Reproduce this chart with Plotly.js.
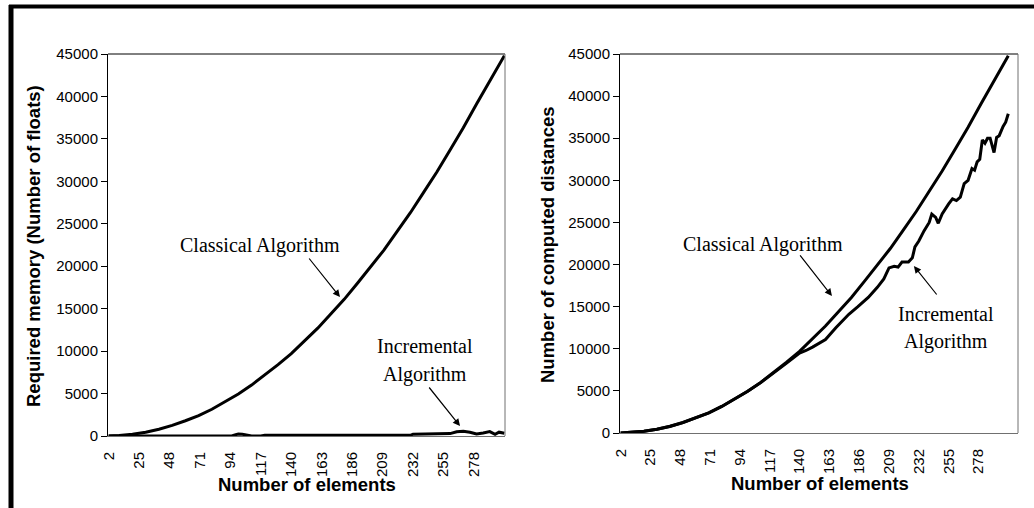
<!DOCTYPE html>
<html>
<head>
<meta charset="utf-8">
<script src="https://cdn.plot.ly/plotly-3.0.1.min.js"></script>
<style>html,body{margin:0;padding:0;background:#fff;}#chart{width:1034px;height:508px;}</style>
</head>
<body>
<div id="chart"></div>
<script>
// ---- data ----
const xTickVals = [2, 25, 48, 71, 94, 117, 140, 163, 186, 209, 232, 255, 278];
const xTickText = ["2", "25", "48", "71", "94", "117", "140", "163", "186", "209", "232", "255", "278"];

// Left chart: required memory
const memClassicalX = [2, 10, 20, 30, 40, 50, 60, 70, 80, 90, 100, 110, 120, 130, 140, 150, 160, 170, 180, 190, 200, 210, 220, 230, 240, 250, 260, 270, 280, 290, 301];
const memClassicalY = [0, 50, 200, 450, 800, 1250, 1800, 2400, 3150, 4000, 4950, 6000, 7150, 8400, 9700, 11200, 12700, 14400, 16100, 18000, 19900, 21900, 24100, 26300, 28700, 31100, 33700, 36300, 39100, 41900, 44800];
const memIncrementalX = [2, 20, 50, 95, 98, 100, 103, 106, 110, 117, 120, 150, 180, 210, 230, 232, 240, 250, 255, 260, 265, 270, 275, 280, 285, 290, 294, 297, 301];
const memIncrementalY = [0, 0, 0, 0, 150, 220, 200, 120, 0, 0, 80, 80, 80, 80, 80, 220, 240, 260, 300, 280, 500, 550, 450, 250, 350, 520, 200, 450, 320];

// Right chart: computed distances
const distClassicalX = memClassicalX;
const distClassicalY = [0, 50, 200, 450, 800, 1250, 1800, 2400, 3150, 4000, 4950, 6000, 7150, 8400, 9700, 11200, 12700, 14400, 16100, 18000, 19900, 21900, 24100, 26300, 28700, 31100, 33700, 36300, 39100, 41900, 44800];
const distIncrementalX = [2, 10, 20, 30, 40, 50, 60, 70, 80, 90, 100, 110, 120, 130, 140, 145, 150, 160, 168, 178, 185, 193, 200, 205, 209, 213, 216, 219, 224, 227, 229, 232, 236, 240, 242, 245, 247, 250, 255, 258, 261, 264, 267, 270, 273, 275, 277, 279, 281, 283, 285, 287, 290, 292, 294, 297, 299, 301];
const distIncrementalY = [0, 50, 200, 440, 780, 1230, 1770, 2400, 3150, 4000, 4950, 5980, 7100, 8300, 9500, 9800, 10200, 11100, 12500, 14100, 15000, 16100, 17300, 18300, 19600, 19800, 19700, 20300, 20300, 20800, 22100, 22800, 24000, 25000, 26000, 25600, 24900, 26000, 27200, 27800, 27600, 28000, 29600, 30000, 31400, 31200, 32200, 32500, 34800, 34400, 35000, 35000, 33300, 35100, 35300, 36400, 36900, 37900];

const yTickVals = [0, 5000, 10000, 15000, 20000, 25000, 30000, 35000, 40000, 45000];

// ---- chart ----
const W = 1034, H = 508;
const lineStyle = {color: '#000', width: 3};
const traces = [
  {x: memClassicalX, y: memClassicalY, xaxis: 'x', yaxis: 'y', mode: 'lines', line: lineStyle, name: 'Classical Algorithm'},
  {x: memIncrementalX, y: memIncrementalY, xaxis: 'x', yaxis: 'y', mode: 'lines', line: lineStyle, name: 'Incremental Algorithm'},
  {x: distClassicalX, y: distClassicalY, xaxis: 'x2', yaxis: 'y2', mode: 'lines', line: lineStyle, name: 'Classical Algorithm'},
  {x: distIncrementalX, y: distIncrementalY, xaxis: 'x2', yaxis: 'y2', mode: 'lines', line: lineStyle, name: 'Incremental Algorithm'}
];

const tickFont = {family: 'Liberation Sans, Arial, sans-serif', size: 15, color: '#000'};
const titleFont = {family: 'Liberation Sans, Arial, sans-serif', size: 18.5, color: '#000', weight: 'bold'};
const noteFont = {family: 'Liberation Serif, Times New Roman, serif', size: 20, color: '#000'};

function xAxis(domain, range, anchor) {
  return {domain: domain, range: range, anchor: anchor, tickmode: 'array', tickvals: xTickVals, ticktext: xTickText,
    tickangle: -90, ticks: 'outside', ticklen: 9, tickcolor: 'rgba(0,0,0,0)', tickfont: tickFont,
    showline: true, linecolor: '#707070', linewidth: 1, showgrid: false, zeroline: false, fixedrange: true};
}
function yAxis(domain, anchor) {
  return {domain: domain, range: [0, 45000], anchor: anchor, tickmode: 'array', tickvals: yTickVals, tickformat: 'd',
    ticks: 'outside', ticklen: 6, tickcolor: '#000', tickfont: tickFont,
    showline: true, linecolor: '#000', linewidth: 1, showgrid: false, zeroline: false, fixedrange: true};
}

function px(v) { return v / W; }
function py(v) { return 1 - v / H; }

const annotations = [
  // axis titles
  {xref: 'paper', yref: 'paper', x: px(33), y: py(246), text: 'Required memory (Number of floats)', textangle: -90, showarrow: false, font: titleFont, xanchor: 'center', yanchor: 'middle'},
  {xref: 'paper', yref: 'paper', x: px(307), y: py(484), text: 'Number of elements', showarrow: false, font: titleFont, xanchor: 'center', yanchor: 'middle'},
  {xref: 'paper', yref: 'paper', x: px(547), y: py(245), text: 'Number of computed distances', textangle: -90, showarrow: false, font: titleFont, xanchor: 'center', yanchor: 'middle'},
  {xref: 'paper', yref: 'paper', x: px(820), y: py(483), text: 'Number of elements', showarrow: false, font: titleFont, xanchor: 'center', yanchor: 'middle'},
  // left labels
  {xref: 'x', yref: 'y', x: 116.4, y: 22500, text: 'Classical Algorithm', showarrow: false, font: noteFont},
  {xref: 'x', yref: 'y', x: 241, y: 10600, text: 'Incremental', showarrow: false, font: noteFont},
  {xref: 'x', yref: 'y', x: 241, y: 7300, text: 'Algorithm', showarrow: false, font: noteFont},
  {xref: 'x', yref: 'y', axref: 'x', ayref: 'y', x: 176.8, y: 16374, ax: 152.6, ay: 21086, text: '', showarrow: true, arrowhead: 2, arrowsize: 1.2, arrowwidth: 1.2, arrowcolor: '#000', standoff: 0, startstandoff: 0},
  {xref: 'x', yref: 'y', axref: 'x', ayref: 'y', x: 267.5, y: 1178, ax: 243.3, ay: 5890, text: '', showarrow: true, arrowhead: 2, arrowsize: 1.2, arrowwidth: 1.2, arrowcolor: '#000', standoff: 0, startstandoff: 0},
  // right labels
  {xref: 'x2', yref: 'y2', x: 111.8, y: 22323, text: 'Classical Algorithm', showarrow: false, font: noteFont},
  {xref: 'x2', yref: 'y2', x: 253.2, y: 14130, text: 'Incremental', showarrow: false, font: noteFont},
  {xref: 'x2', yref: 'y2', x: 252.9, y: 10924, text: 'Algorithm', showarrow: false, font: noteFont},
  {xref: 'x2', yref: 'y2', axref: 'x2', ayref: 'y2', x: 165, y: 16267, ax: 139.5, ay: 21254, text: '', showarrow: true, arrowhead: 2, arrowsize: 1.2, arrowwidth: 1.2, arrowcolor: '#000', standoff: 0, startstandoff: 0},
  {xref: 'x2', yref: 'y2', axref: 'x2', ayref: 'y2', x: 228.2, y: 19829, ax: 246.7, ay: 16267, text: '', showarrow: true, arrowhead: 2, arrowsize: 1.2, arrowwidth: 1.2, arrowcolor: '#000', standoff: 0, startstandoff: 0}
];

const shapes = [
  // outer frame (top and left)
  {type: 'line', xref: 'paper', yref: 'paper', x0: px(9), x1: px(1034), y0: py(6.5), y1: py(6.5), line: {color: '#000', width: 4}},
  {type: 'line', xref: 'paper', yref: 'paper', x0: px(11), x1: px(11), y0: py(5), y1: py(508), line: {color: '#000', width: 5}},
  // plot area box: top black, right grey
  {type: 'line', xref: 'x domain', yref: 'y domain', x0: 0, x1: 1, y0: 1, y1: 1, line: {color: '#000', width: 1}},
  {type: 'line', xref: 'x domain', yref: 'y domain', x0: 1, x1: 1, y0: 0, y1: 1, line: {color: '#707070', width: 1}},
  {type: 'line', xref: 'x2 domain', yref: 'y2 domain', x0: 0, x1: 1, y0: 1, y1: 1, line: {color: '#000', width: 1}},
  {type: 'line', xref: 'x2 domain', yref: 'y2 domain', x0: 1, x1: 1, y0: 0, y1: 1, line: {color: '#707070', width: 1}}
];

const layout = {
  width: W, height: H,
  margin: {l: 0, r: 0, t: 0, b: 0},
  paper_bgcolor: '#fff', plot_bgcolor: '#fff',
  showlegend: false,
  xaxis: xAxis([px(108), px(505)], [1.5, 301.5], 'y'),
  yaxis: yAxis([py(436), py(54)], 'x'),
  xaxis2: xAxis([px(620), px(1018)], [1.5, 308.5], 'y2'),
  yaxis2: yAxis([py(433), py(54)], 'x2'),
  annotations: annotations,
  shapes: shapes
};

Plotly.newPlot('chart', traces, layout, {displayModeBar: false, staticPlot: true});
</script>
</body>
</html>
